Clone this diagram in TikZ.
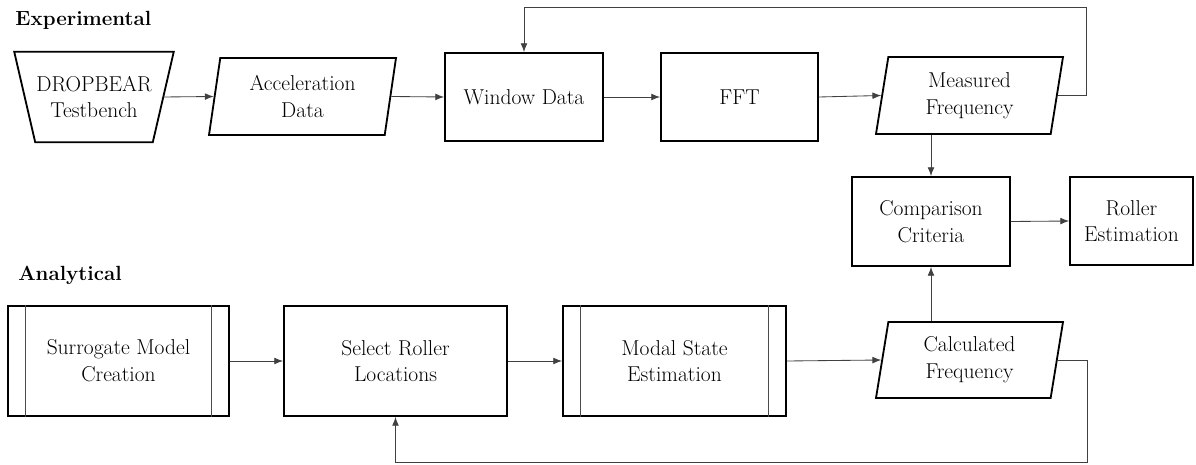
\documentclass[tikz,border=0pt]{standalone}
\usetikzlibrary{shapes.geometric,arrows.meta}
\begin{document}
\begin{tikzpicture}[
			>={Latex[length=2.2mm,width=1.7mm]},
			every node/.style = {font=\fontsize{15.3}{19}\selectfont, align=center},
			head/.style = {anchor=base west, inner sep=0pt, font=\fontsize{14.6}{19}\selectfont\bfseries},
			block/.style = {draw, line width=1.3pt, inner sep=0pt},
			io/.style = {block, trapezium, trapezium left angle=75, trapezium right angle=105, trapezium stretches body, minimum width=4.675cm, minimum height=1.925cm},
			flow/.style = {->, line width=0.6pt, black!75}
			]

			\useasboundingbox (0,0) rectangle (29.9,11.6);

			\node[head] (exp) at (0.38,10.95) {Experimental};
			\node[head] (ana) at (0.45,4.575) {Analytical};

			\node[minimum width=3.975cm, minimum height=2.25cm, inner sep=0pt] (tb) at (2.35,9.175) {DROPBEAR\\Testbench};
			\draw[line width=1.3pt] (tb.north west) -- (tb.north east) -- ([xshift=-0.525cm]tb.south east) -- ([xshift=0.525cm]tb.south west) -- cycle;
			\node[io] (acc) at (7.5625,9.1875) {Acceleration\\Data};
			\node[block, minimum width=3.95cm, minimum height=2.2cm] (win) at (13.1,9.175) {Window Data};
			\node[block, minimum width=3.925cm, minimum height=2.2cm] (fft) at (18.4875,9.175) {FFT};
			\node[io] (meas) at (24.2375,9.2125) {Measured\\Frequency};
			\node[block, minimum width=3.95cm, minimum height=2.225cm] (comp) at (23.275,6.0625) {Comparison\\Criteria};
			\node[block, minimum width=3.075cm, minimum height=2.2cm] (roll) at (28.2875,6.075) {Roller\\Estimation};

			\node[block, minimum width=5.525cm, minimum height=2.75cm] (sm) at (2.9625,2.575) {Surrogate Model\\Creation};
			\node[block, minimum width=5.575cm, minimum height=2.75cm] (sel) at (9.8875,2.575) {Select Roller\\Locations};
			\node[block, minimum width=5.575cm, minimum height=2.75cm] (mse) at (16.8625,2.575) {Modal State\\Estimation};
			\node[io, minimum height=1.9cm] (calc) at (24.2375,2.6) {Calculated\\Frequency};

			\draw[black!70, line width=0.6pt] ([xshift=0.46cm]sm.north west) -- ([xshift=0.46cm]sm.south west) ([xshift=-0.46cm]sm.north east) -- ([xshift=-0.46cm]sm.south east);
			\draw[black!70, line width=0.6pt] ([xshift=0.46cm]mse.north west) -- ([xshift=0.46cm]mse.south west) ([xshift=-0.46cm]mse.north east) -- ([xshift=-0.46cm]mse.south east);

			\coordinate (fbtop) at (27.15,11.425);
			\coordinate (fbbot) at (27.175,0.05);

			\draw[flow] ([xshift=-0.26cm]tb.east) -- (acc.left side);
			\draw[flow] (acc.right side) -- (win.west);
			\draw[flow] (win.east) -- (fft.west);
			\draw[flow] (fft.east) -- (meas.left side);
			\draw[flow] (meas.south -| comp.north) -- (comp.north);
			\draw[flow] (comp.east) -- (roll.west);
			\draw[flow] (meas.right side) -| (fbtop) -| (win.north);

			\draw[flow] (sm.east) -- (sel.west);
			\draw[flow] (sel.east) -- (mse.west);
			\draw[flow] (mse.east) -- (calc.left side);
			\draw[flow] (calc.north -| comp.south) -- (comp.south);
			\draw[flow] (calc.right side) -| (fbbot) -| (sel.south);

		\end{tikzpicture}
\end{document}
